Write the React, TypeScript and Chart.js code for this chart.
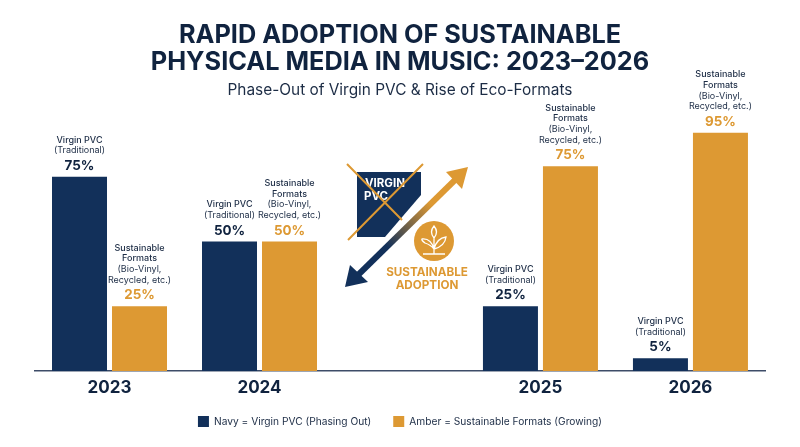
import { useEffect, useRef } from "react";
import Chart from "chart.js/auto";

const years = ["2023", "2024", "2025", "2026"];
// years are not evenly spaced in the picture, there is a wide gap for the middle graphic
const yearSlots = [0, 1, 2.873, 3.873];
const virginPvc = [75, 50, 25, 5];
const sustainable = [25, 50, 79, 92];
const virginLabels = ["75%", "50%", "25%", "5%"];
const sustainableLabels = ["25%", "50%", "75%", "95%"];
const virginCaption = ["Virgin PVC", "(Traditional)"];
const sustainableCaption = ["Sustainable", "Formats", "(Bio-Vinyl,", "Recycled, etc.)"];

const NAVY = "#12305a";
const AMBER = "#dd9933";
const INK = "#10233f";
const FONT = "Inter, sans-serif";

const barLabels = {
  id: "barLabels",
  afterDatasetsDraw(chart: Chart) {
    const ctx = chart.ctx;
    ctx.save();
    ctx.textAlign = "center";
    ctx.textBaseline = "middle";
    chart.data.datasets.forEach((_, d) => {
      const caption = d === 0 ? virginCaption : sustainableCaption;
      const printed = d === 0 ? virginLabels : sustainableLabels;
      chart.getDatasetMeta(d).data.forEach((bar: any, i: number) => {
        const x = bar.x;
        const top = bar.y;
        ctx.font = `700 13.4px ${FONT}`;
        ctx.fillStyle = d === 0 ? INK : AMBER;
        ctx.fillText(printed[i], x, top - 11);
        caption.forEach((line, l) => {
          ctx.font = `${line.startsWith("(") || line.startsWith("Recycled") ? 400 : 500} 9px ${FONT}`;
          ctx.fillStyle = "#1c2c45";
          ctx.fillText(line, x, top - 26 - (caption.length - 1 - l) * 10.8);
        });
      });
    });
    ctx.restore();
  },
};

// the crossed out box, the two way arrow and the plant badge in the middle gap
const middleGraphic = {
  id: "middleGraphic",
  afterDraw(chart: Chart) {
    const ctx = chart.ctx;
    ctx.save();

    ctx.fillStyle = NAVY;
    ctx.beginPath();
    ctx.moveTo(357, 172);
    ctx.lineTo(421, 172);
    ctx.lineTo(421, 195);
    ctx.lineTo(385, 237);
    ctx.lineTo(357, 237);
    ctx.closePath();
    ctx.fill();

    ctx.fillStyle = "#ffffff";
    ctx.font = `700 11.5px ${FONT}`;
    ctx.textAlign = "left";
    ctx.textBaseline = "middle";
    ctx.fillText("VIRGIN", 365, 184);
    ctx.fillText("PVC", 364, 197);

    ctx.strokeStyle = AMBER;
    ctx.lineWidth = 2;
    ctx.beginPath();
    ctx.moveTo(347, 164);
    ctx.lineTo(402, 220);
    ctx.moveTo(423, 164);
    ctx.lineTo(348, 240);
    ctx.stroke();

    const gradient = ctx.createLinearGradient(455, 180, 358, 275);
    gradient.addColorStop(0, AMBER);
    gradient.addColorStop(0.25, AMBER);
    gradient.addColorStop(0.7, NAVY);
    gradient.addColorStop(1, NAVY);
    ctx.strokeStyle = gradient;
    ctx.lineWidth = 6;
    ctx.beginPath();
    ctx.moveTo(455, 180);
    ctx.lineTo(358, 275);
    ctx.stroke();

    ctx.fillStyle = AMBER;
    ctx.beginPath();
    ctx.moveTo(468, 167);
    ctx.lineTo(446, 172);
    ctx.lineTo(462, 189);
    ctx.closePath();
    ctx.fill();

    ctx.fillStyle = NAVY;
    ctx.beginPath();
    ctx.moveTo(345, 287);
    ctx.lineTo(350, 265);
    ctx.lineTo(368, 282);
    ctx.closePath();
    ctx.fill();

    ctx.fillStyle = AMBER;
    ctx.beginPath();
    ctx.arc(434, 241, 20, 0, Math.PI * 2);
    ctx.fill();

    // plant
    ctx.strokeStyle = "#ffffff";
    ctx.lineWidth = 1.3;
    ctx.beginPath();
    ctx.moveTo(423, 254);
    ctx.lineTo(445, 254);
    ctx.moveTo(434, 254);
    ctx.lineTo(434, 238);
    ctx.moveTo(434, 249);
    ctx.quadraticCurveTo(431, 245, 425, 243);
    ctx.quadraticCurveTo(421, 240, 422, 239);
    ctx.quadraticCurveTo(431, 238, 434, 249);
    ctx.moveTo(434, 249);
    ctx.quadraticCurveTo(437, 238, 446, 237);
    ctx.quadraticCurveTo(445, 246, 434, 249);
    ctx.moveTo(434, 238);
    ctx.quadraticCurveTo(429, 232, 434, 226);
    ctx.quadraticCurveTo(439, 232, 434, 238);
    ctx.stroke();

    ctx.fillStyle = AMBER;
    ctx.font = `700 11.7px ${FONT}`;
    ctx.textAlign = "center";
    ctx.fillText("SUSTAINABLE", 427, 272);
    ctx.fillText("ADOPTION", 427, 285);

    ctx.restore();
  },
};

function App() {
  const chartRef = useRef<HTMLCanvasElement | null>(null);

  useEffect(() => {
    if (!chartRef.current) return;

    const chart = new Chart(chartRef.current, {
      type: "bar",
      data: {
        datasets: [
          {
            // trailing spaces widen the gap between the two legend items
            label: "Navy = Virgin PVC (Phasing Out)    ",
            data: yearSlots.map((slot, i) => ({ x: slot, y: virginPvc[i] })),
            backgroundColor: NAVY,
          },
          {
            label: "Amber = Sustainable Formats (Growing)",
            data: yearSlots.map((slot, i) => ({ x: slot, y: sustainable[i] })),
            backgroundColor: AMBER,
          },
        ],
      },
      options: {
        animation: false,
        responsive: false,
        layout: { padding: { left: 35, right: 35, top: 4, bottom: 10 } },
        datasets: { bar: { categoryPercentage: 0.8, barPercentage: 0.9167 } },
        scales: {
          x: {
            type: "linear",
            offset: false,
            min: -0.4967,
            max: 4.37,
            grid: { display: false, drawTicks: false },
            border: { color: "#3d4c68", width: 1.5 },
            afterBuildTicks: (axis: any) => {
              axis.ticks = yearSlots.map((value) => ({ value }));
            },
            ticks: {
              autoSkip: false,
              maxRotation: 0,
              padding: 7,
              color: INK,
              font: { family: FONT, size: 17, weight: "bold" },
              callback: (value: any) => years[yearSlots.indexOf(value)],
            },
          },
          y: {
            display: false,
            min: 0,
            max: 102.3,
          },
        },
        plugins: {
          title: {
            display: true,
            text: ["RAPID ADOPTION OF SUSTAINABLE", "PHYSICAL MEDIA IN MUSIC: 2023\u20132026"],
            color: INK,
            font: { family: FONT, size: 25.3, weight: "bold", lineHeight: 1.067 },
            padding: { top: 17.5, bottom: 6 },
          },
          subtitle: {
            display: true,
            text: "Phase-Out of Virgin PVC & Rise of Eco-Formats",
            color: "#1c2c45",
            font: { family: FONT, size: 15.4, weight: "normal" },
            padding: { bottom: 6 },
          },
          legend: {
            position: "bottom",
            labels: {
              boxWidth: 11,
              boxHeight: 11,
              padding: 10.5,
              color: "#1c2c45",
              font: { family: FONT, size: 10.2 },
            },
          },
          tooltip: { enabled: false },
        },
      },
      plugins: [barLabels, middleGraphic],
    });

    return () => {
      chart.destroy();
    };
  }, []);

  return (
    <div style={{ position: "fixed", left: 0, top: 0, width: 800, height: 447, background: "#fff" }}>
      <canvas ref={chartRef} width={800} height={447} style={{ display: "block" }} />
    </div>
  );
}

export default App;
